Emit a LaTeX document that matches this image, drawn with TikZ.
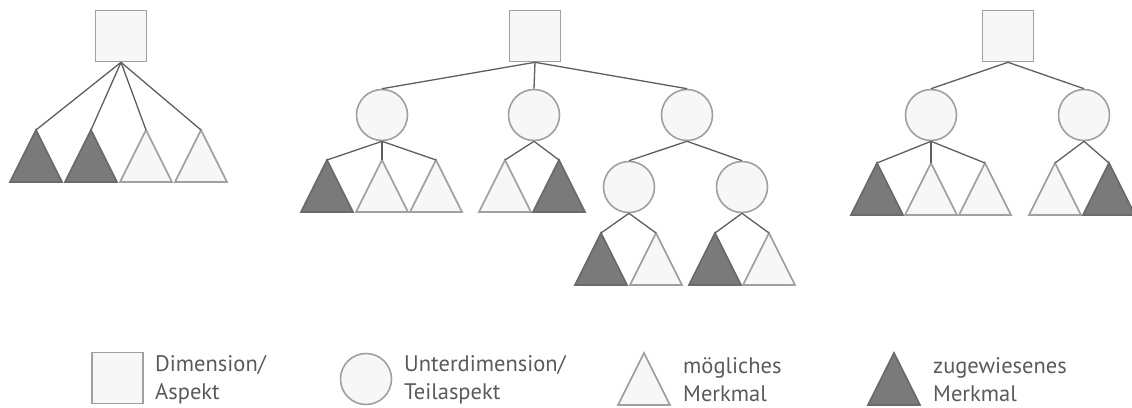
\documentclass[tikz,border=0pt]{standalone}
\usepackage{fontspec}
\setmainfont{PT Sans}
\usetikzlibrary{shapes.geometric}
\definecolor{lightfill}{HTML}{F7F7F7}
\definecolor{lightedge}{HTML}{A0A0A0}
\definecolor{darkfill}{HTML}{7A7A7A}
\definecolor{darkedge}{HTML}{6A6A6A}
\definecolor{linkcol}{HTML}{5E5E5E}
\definecolor{textcol}{HTML}{5A5A5A}
\tikzset{
  dimbox/.style={draw=lightedge, fill=lightfill, line width=1.6pt,
    minimum size=51pt, inner sep=0pt},
  subdim/.style={circle, draw=lightedge, fill=lightfill, line width=1.6pt,
    minimum size=51pt, inner sep=0pt},
  tri/.style={isosceles triangle, isosceles triangle stretches,
    shape border rotate=90, minimum width=52pt, minimum height=52pt,
    inner sep=0pt, outer sep=0pt, line width=1.6pt, anchor=apex},
  opt/.style={tri, draw=lightedge, fill=lightfill},
  sel/.style={tri, draw=darkedge, fill=darkfill},
  link/.style={draw=linkcol, line width=1.3pt},
  legtext/.style={anchor=west, align=left, text=textcol, inner sep=0pt,
    font=\fontsize{22.5}{28}\selectfont},
}
\begin{document}
\begin{tikzpicture}[x=1pt, y=-1pt]
\useasboundingbox (0,0) rectangle (1132,407);

% --- first tree: dimension with features only
\node[dimbox] (a) at (121,36) {};
\node[sel] (a1) at (36,130) {};
\node[sel] (a2) at (91,130) {};
\node[opt] (a3) at (146,130) {};
\node[opt] (a4) at (201,130) {};
\foreach \t in {a1,a2,a3,a4} \draw[link] (a.south) -- (\t.apex);

% --- second tree: nested sub-dimensions
\node[dimbox] (b) at (535,36) {};
\node[subdim] (b1) at (382,115) {};
\node[subdim] (b2) at (534,115) {};
\node[subdim] (b3) at (687,115) {};
\node[subdim] (b31) at (629,187) {};
\node[subdim] (b32) at (742,187) {};
\node[sel] (b11) at (327,160) {};
\node[opt] (b12) at (382,160) {};
\node[opt] (b13) at (436,160) {};
\node[opt] (b21) at (505,160) {};
\node[sel] (b22) at (559,160) {};
\node[sel] (b311) at (601,233) {};
\node[opt] (b312) at (656,233) {};
\node[sel] (b321) at (715,233) {};
\node[opt] (b322) at (769,233) {};
\foreach \c in {b1,b2,b3} \draw[link] (b.south) -- (\c.north);
\foreach \t in {b11,b12,b13} \draw[link] (b1.south) -- (\t.apex);
\foreach \t in {b21,b22} \draw[link] (b2.south) -- (\t.apex);
\foreach \c in {b31,b32} \draw[link] (b3.south) -- (\c.north);
\foreach \t in {b311,b312} \draw[link] (b31.south) -- (\t.apex);
\foreach \t in {b321,b322} \draw[link] (b32.south) -- (\t.apex);

% --- third tree: two sub-dimensions
\node[dimbox] (c) at (1008,36) {};
\node[subdim] (c1) at (931,115) {};
\node[subdim] (c2) at (1084,115) {};
\node[sel] (c11) at (877,163) {};
\node[opt] (c12) at (931,163) {};
\node[opt] (c13) at (985,163) {};
\node[opt] (c21) at (1055,163) {};
\node[sel] (c22) at (1109,163) {};
\foreach \c in {c1,c2} \draw[link] (c.south) -- (\c.north);
\foreach \t in {c11,c12,c13} \draw[link] (c1.south) -- (\t.apex);
\foreach \t in {c21,c22} \draw[link] (c2.south) -- (\t.apex);

% --- legend
\node[dimbox] (l1) at (117.5,378) {};
\node[legtext] (l1t) at (155,380) {Dimension/\\Aspekt};
\node[subdim] (l2) at (366,379) {};
\node[legtext] (l2t) at (404,380) {Unterdimension/\\Teilaspekt};
\node[opt] (l3) at (644,353) {};
\node[legtext] (l3t) at (683,380) {mögliches\\Merkmal};
\node[sel] (l4) at (894,353) {};
\node[legtext] (l4t) at (933,380) {zugewiesenes\\Merkmal};
\end{tikzpicture}
\end{document}
